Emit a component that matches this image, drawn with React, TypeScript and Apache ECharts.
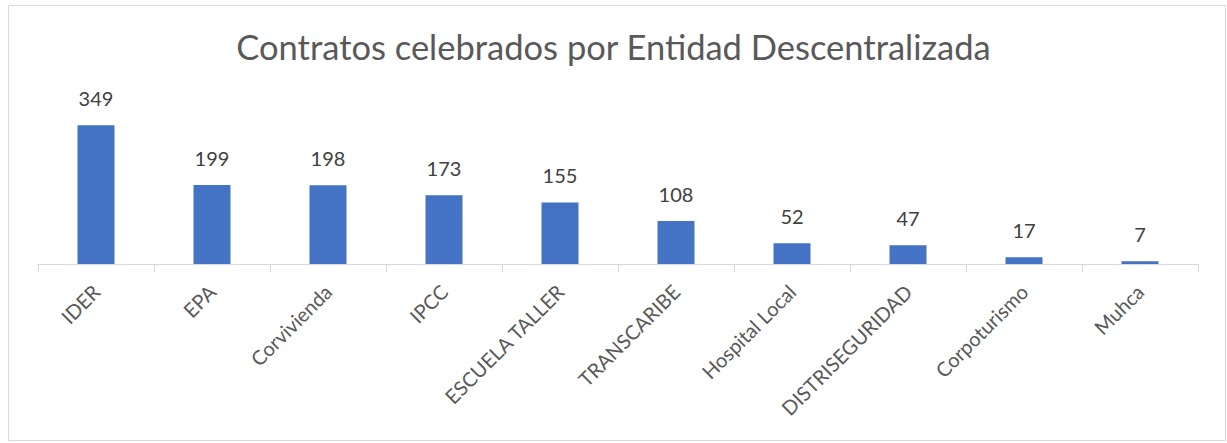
import React, { useEffect, useRef } from "react";
import * as echarts from "echarts";

const categories = ["IDER", "EPA", "Corvivienda", "IPCC", "ESCUELA TALLER", "TRANSCARIBE", "Hospital Local", "DISTRISEGURIDAD", "Corpoturismo", "Muhca"];
const values = [349, 199, 198, 173, 155, 108, 52, 47, 17, 7];
const title = "Contratos celebrados por Entidad Descentralizada";

export default function App() {
  const ref = useRef<HTMLDivElement>(null);
  useEffect(() => {
    const chart = echarts.init(ref.current!, null, { renderer: "svg" });
    const font = "Lato, 'Open Sans', sans-serif";
    chart.setOption({
      animation: false,
      backgroundColor: "#ffffff",
      title: {
        text: title,
        left: "center",
        top: 24,
        textStyle: { fontFamily: font, fontSize: 34.5, fontWeight: "normal", color: "#595959" },
      },
      graphic: [
        {
          type: "rect",
          shape: { x: 8.5, y: 5.5, width: 1217, height: 435 },
          style: { fill: "none", stroke: "#D9D9D9", lineWidth: 1 },
          silent: true,
        },
      ],
      grid: { left: 38, right: 29, top: 105, bottom: 179 },
      xAxis: {
        type: "category",
        data: categories,
        axisLine: { lineStyle: { color: "#D9D9D9", width: 1 } },
        axisTick: { show: true, alignWithLabel: false, length: 8, lineStyle: { color: "#D9D9D9" } },
        axisLabel: { rotate: 45, fontFamily: font, fontSize: 20, color: "#595959", margin: 24, interval: 0 },
      },
      yAxis: {
        type: "value",
        min: 0,
        max: 400,
        show: false,
        splitLine: { show: false },
      },
      series: [
        {
          type: "bar",
          data: values,
          barWidth: 37,
          itemStyle: { color: "#4472C4" },
          label: { show: true, position: "top", distance: 17, fontFamily: font, fontSize: 20, color: "#404040" },
        },
      ],
    });
    return () => chart.dispose();
  }, []);
  return <div ref={ref} style={{ position: "absolute", left: 0, top: 0, width: 1227, height: 443 }} />;
}
